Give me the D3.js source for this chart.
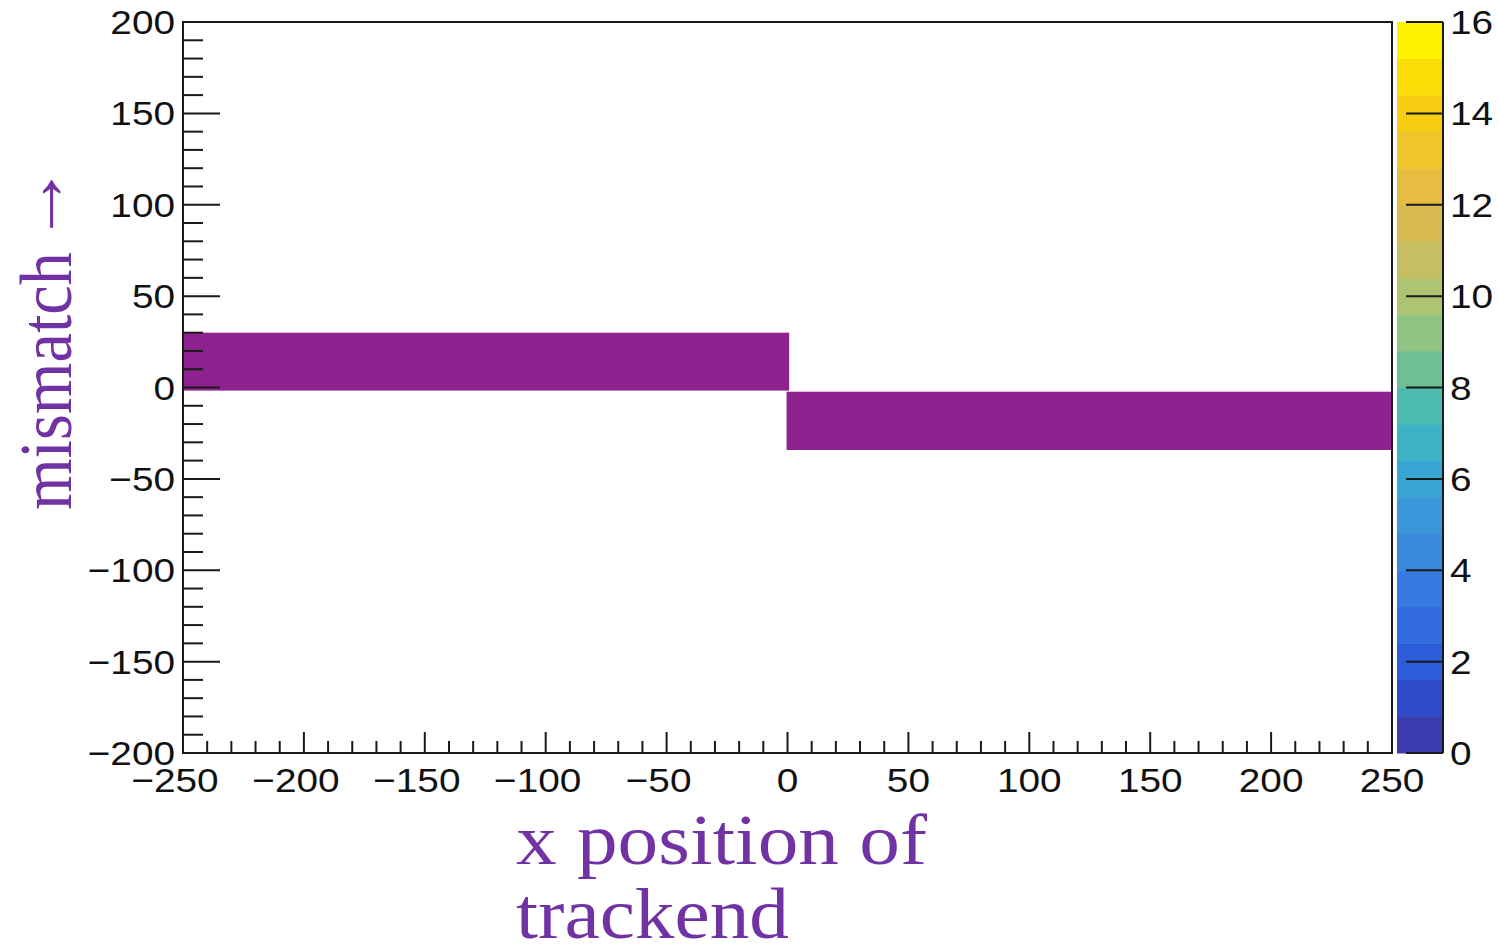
<!DOCTYPE html>
<html>
<head>
<meta charset="utf-8">
<script src="https://cdn.jsdelivr.net/npm/d3@7"></script>
<style>
  html, body { margin: 0; padding: 0; background: #fff; }
  svg { display: block; }
</style>
</head>
<body>
<svg id="chart" width="1499" height="951"></svg>
<script>
// Histogram bins that hold entries: x range, y range of each cell
const binXLow  = [-250, -0.4];
const binXHigh = [0.7, 250];
const binYLow  = [-1.7, -34.2];
const binYHigh = [30, -2.3];

// Axis ranges and tick labels
const xDomain = [-250, 250];
const yDomain = [-200, 200];
const xMajorTicks = [-250, -200, -150, -100, -50, 0, 50, 100, 150, 200, 250];
const yMajorTicks = [-200, -150, -100, -50, 0, 50, 100, 150, 200];
const zDomain = [0, 16];
const zTicks = [0, 2, 4, 6, 8, 10, 12, 14, 16];

// Colour palette bands of the z scale, from lowest to highest
const paletteBands = [
  "#3a3cae", "#2f4ac8", "#2d5cd8", "#316bde", "#3879df",
  "#3a88de", "#3a97da", "#38a5d2", "#3cb2c4", "#4dbcae",
  "#6ebf95", "#8fc482", "#aec472", "#c6bf62", "#d9ba52",
  "#e6bd40", "#efc52c", "#f6cd12", "#fadd06", "#fdf200"
];

const xTitle = ["x position of", "trackend"];
const yTitleWord = "mismatch";
const yTitleArrow = "\u2192";

const svg = d3.select("#chart");
const frame = { left: 183, right: 1392, top: 22, bottom: 753 };

const x = d3.scaleLinear().domain(xDomain).range([frame.left, frame.right]);
const y = d3.scaleLinear().domain(yDomain).range([frame.bottom, frame.top]);
const z = d3.scaleLinear().domain(zDomain).range([frame.bottom, frame.top]);

const fmt = v => (v < 0 ? "\u2212" + Math.abs(v) : String(v));
const labelFont = "'Liberation Sans', Arial, Helvetica, sans-serif";
const titleFont = "'Liberation Serif', 'Times New Roman', serif";
const titleColor = "#7133a3";
const barColor = "#8e228e";
const labelStretch = 1.14;

// Filled cells
const cells = binXLow.map((d, i) => ({ x0: d, x1: binXHigh[i], y0: binYLow[i], y1: binYHigh[i] }));
svg.append("g").selectAll("rect").data(cells).join("rect")
  .attr("x", d => x(d.x0))
  .attr("y", d => y(d.y1))
  .attr("width", d => x(d.x1) - x(d.x0))
  .attr("height", d => y(d.y0) - y(d.y1))
  .attr("fill", barColor);

// Plot frame
svg.append("rect")
  .attr("x", frame.left).attr("y", frame.top)
  .attr("width", frame.right - frame.left).attr("height", frame.bottom - frame.top)
  .attr("fill", "none").attr("stroke", "#1a1a1a").attr("stroke-width", 2);

// X axis ticks (pointing inward) and labels
const xMinor = d3.range(xDomain[0], xDomain[1] + 0.001, 10);
const gx = svg.append("g").attr("stroke", "#1a1a1a").attr("stroke-width", 2);
gx.selectAll("line").data(xMinor).join("line")
  .attr("x1", d => x(d)).attr("x2", d => x(d))
  .attr("y1", frame.bottom)
  .attr("y2", d => frame.bottom - (d % 50 === 0 ? 21 : 12));
svg.append("g").selectAll("text").data(xMajorTicks).join("text")
  .attr("transform", d => `translate(${x(d) + (d < 0 ? -8 : 0)},${frame.bottom + 39}) scale(${labelStretch},1)`)
  .attr("text-anchor", "middle")
  .attr("font-family", labelFont).attr("font-size", 34).attr("fill", "#111")
  .text(fmt);

// Y axis ticks (pointing inward) and labels
const yMinor = d3.range(yDomain[0], yDomain[1] + 0.001, 10);
const gy = svg.append("g").attr("stroke", "#1a1a1a").attr("stroke-width", 2);
gy.selectAll("line").data(yMinor).join("line")
  .attr("y1", d => y(d)).attr("y2", d => y(d))
  .attr("x1", frame.left)
  .attr("x2", d => frame.left + (d % 50 === 0 ? 37 : 20));
svg.append("g").selectAll("text").data(yMajorTicks).join("text")
  .attr("transform", d => `translate(${frame.left - 8},${y(d) + 12}) scale(${labelStretch},1)`)
  .attr("text-anchor", "end")
  .attr("font-family", labelFont).attr("font-size", 34).attr("fill", "#111")
  .text(fmt);

// Colour scale bar
const cb = { left: 1397, right: 1443 };
const bandStep = (zDomain[1] - zDomain[0]) / paletteBands.length;
svg.append("g").selectAll("rect").data(paletteBands).join("rect")
  .attr("x", cb.left)
  .attr("y", (d, i) => z((i + 1) * bandStep))
  .attr("width", cb.right - cb.left)
  .attr("height", (d, i) => z(i * bandStep) - z((i + 1) * bandStep) + 0.5)
  .attr("fill", d => d);
svg.append("line")
  .attr("x1", cb.right).attr("x2", cb.right)
  .attr("y1", z(zDomain[0])).attr("y2", z(zDomain[1]))
  .attr("stroke", "#1a1a1a").attr("stroke-width", 2);
svg.append("g").selectAll("line").data(zTicks).join("line")
  .attr("x1", cb.right - 37).attr("x2", cb.right)
  .attr("y1", d => z(d)).attr("y2", d => z(d))
  .attr("stroke", "#1a1a1a").attr("stroke-width", 2);
svg.append("g").selectAll("text").data(zTicks).join("text")
  .attr("transform", d => `translate(${cb.right + 7},${z(d) + 12}) scale(${labelStretch},1)`)
  .attr("font-family", labelFont).attr("font-size", 34).attr("fill", "#111")
  .text(d => String(d));

// Axis titles
const xTitleLengths = [411, 273];
svg.append("g").selectAll("text").data(xTitle).join("text")
  .attr("x", 516)
  .attr("y", (d, i) => 864 + i * 74)
  .attr("textLength", (d, i) => xTitleLengths[i])
  .attr("lengthAdjust", "spacingAndGlyphs")
  .attr("font-family", titleFont).attr("font-size", 72).attr("fill", titleColor)
  .text(d => d);

const yTitle = svg.append("g").attr("transform", "translate(71,510) rotate(-90)")
  .attr("font-family", titleFont).attr("font-size", 74).attr("fill", titleColor);
yTitle.append("text")
  .attr("x", 0).attr("y", 0)
  .attr("textLength", 258).attr("lengthAdjust", "spacingAndGlyphs")
  .text(yTitleWord);
yTitle.append("text")
  .attr("x", 266).attr("y", -7)
  .attr("textLength", 80).attr("lengthAdjust", "spacingAndGlyphs")
  .text(yTitleArrow);
</script>
</body>
</html>
